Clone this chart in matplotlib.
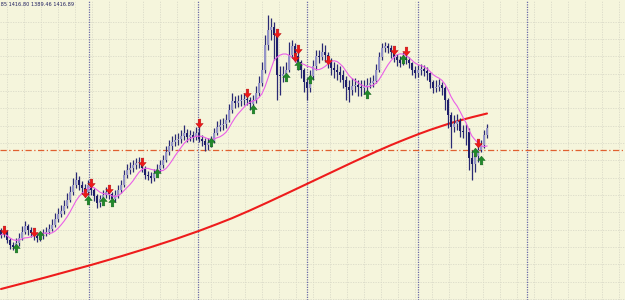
import numpy as np
import matplotlib
matplotlib.use("Agg")
import matplotlib.pyplot as plt
from matplotlib.path import Path
from matplotlib.markers import MarkerStyle

# ---------------- data ----------------
close = [1305,1308,1300,1295,1293,1297,1302,1308,1314,1310,1307,1304,1302,1304,1306,1308,1311,1315,1321,1326,
         1329,1334,1340,1348,1355,1360,1355,1352,1348,1355,1350,1344,1337,1341,1345,1348,1346,1341,1345,1350,
         1355,1365,1370,1372,1375,1377,1378,1372,1365,1364,1362,1367,1371,1375,1380,1388,1394,1398,1400,1401,
         1404,1407,1403,1405,1403,1407,1401,1399,1395,1397,1399,1407,1413,1415,1416,1420,1430,1439,1437,1439,
         1440,1441,1440,1436,1440,1447,1457,1470,1495,1510,1513,1505,1465,1464,1466,1470,1485,1494,1484,1478,
         1470,1458,1452,1464,1474,1484,1483,1488,1485,1478,1472,1470,1468,1465,1460,1453,1450,1454,1455,1453,
         1452,1453,1455,1457,1459,1470,1483,1492,1494,1492,1488,1483,1480,1477,1482,1480,1477,1470,1467,1470,
         1471,1469,1467,1458,1452,1453,1455,1452,1440,1425,1413,1416,1419,1409,1408,1408,1382,1376,1384,1390,
         1395,1405,1412]
high = [1312,1314,1310,1302,1298,1302,1307,1314,1319,1316,1313,1309,1307,1308,1311,1313,1316,1321,1327,1332,
        1335,1340,1347,1354,1362,1368,1364,1359,1356,1360,1357,1352,1346,1345,1350,1353,1352,1348,1350,1355,
        1360,1370,1376,1378,1380,1382,1383,1378,1374,1369,1368,1371,1376,1380,1385,1394,1400,1404,1406,1407,
        1410,1415,1411,1410,1409,1413,1414,1405,1402,1402,1404,1412,1419,1421,1422,1426,1436,1447,1444,1445,
        1446,1447,1445,1443,1445,1454,1464,1478,1505,1525,1522,1518,1510,1474,1474,1478,1498,1500,1497,1488,
        1480,1472,1462,1470,1480,1490,1490,1497,1495,1488,1482,1478,1476,1474,1470,1464,1460,1462,1462,1460,
        1460,1460,1462,1463,1465,1476,1488,1497,1498,1497,1495,1490,1486,1484,1488,1486,1483,1478,1474,1475,
        1476,1475,1473,1468,1460,1460,1461,1458,1454,1442,1428,1425,1426,1422,1415,1416,1412,1390,1390,1395,
        1400,1410,1416]
low = [1302,1303,1297,1291,1290,1291,1294,1300,1306,1305,1303,1300,1298,1299,1301,1304,1306,1309,1313,1318,
       1323,1326,1332,1338,1345,1352,1350,1346,1343,1345,1345,1339,1332,1333,1339,1342,1341,1336,1338,1342,
       1347,1353,1362,1366,1368,1371,1372,1368,1361,1360,1357,1359,1364,1368,1372,1378,1385,1390,1394,1395,
       1397,1400,1398,1399,1398,1400,1398,1394,1389,1390,1393,1397,1405,1409,1410,1412,1418,1427,1432,1433,
       1434,1435,1435,1430,1433,1437,1444,1454,1467,1490,1500,1480,1440,1445,1458,1462,1468,1482,1478,1470,
       1462,1448,1440,1448,1460,1470,1477,1480,1478,1472,1465,1462,1460,1458,1452,1440,1438,1445,1448,1444,
       1444,1446,1448,1452,1453,1457,1468,1480,1488,1487,1482,1478,1474,1473,1475,1476,1472,1465,1462,1463,
       1465,1464,1460,1452,1447,1448,1449,1445,1430,1412,1392,1408,1410,1403,1402,1395,1370,1360,1368,1378,
       1388,1392,1402]
first_open = 1310

# long moving average (red), read at a number of bars
slow_ma_idx = [0, 15, 30, 40, 50, 58, 66, 72, 77, 83, 89, 95, 101, 106, 111, 117, 122, 126, 130,
               133, 136, 139, 143, 147, 150, 153, 157, 162]
slow_ma_val = [1251, 1262.7, 1275, 1283.7, 1292.9, 1300.7, 1309.1, 1315.9, 1321.8, 1329.6, 1337.8,
               1346.2, 1354.7, 1361.8, 1368.9, 1377.4, 1384.3, 1389.7, 1394.9, 1398.6, 1402.2, 1405.7,
               1410.1, 1414.1, 1417.0, 1419.6, 1422.8, 1426.5]

# signal arrows: bar index, price
sell_idx = [1, 11, 28, 30, 36, 47, 66, 82, 92, 98, 99, 109, 131, 135, 159]
sell_val = [1310, 1308, 1347, 1357, 1351, 1378, 1417, 1447, 1507, 1483, 1491, 1480, 1490, 1489, 1397]
buy_idx = [5, 13, 29, 34, 37, 52, 70, 84, 95, 99, 103, 122, 134, 158, 160]
buy_val = [1292, 1305, 1340, 1339, 1338, 1367, 1398, 1431, 1463, 1475, 1461, 1446, 1481, 1388, 1380]

level_price = 1390
separators = [29.3, 65.7, 102.0, 139.0, 175.3]
header = ".85 1416.80 1389.46 1416.89"
ma_period = 8

# ---------------- drawing ----------------
close = np.array(close, float)
high = np.array(high, float)
low = np.array(low, float)
opn = np.concatenate([[first_open], close[:-1]])
high = np.maximum(high, np.maximum(opn, close))
low = np.minimum(low, np.minimum(opn, close))
n = len(close)
x = np.arange(n)

bg = "#f5f5dc"
fig = plt.figure(figsize=(6.25, 3.0), dpi=100)
fig.patch.set_facecolor(bg)
ax = fig.add_axes([0, 0, 1, 1])
ax.set_facecolor(bg)
ax.set_xlim(-1 / 3, 208)
ax.set_ylim(1240, 1540)
for s in ax.spines.values():
    s.set_visible(False)
ax.tick_params(left=False, bottom=False, labelleft=False, labelbottom=False)

# faint grid
gx = np.arange(2.0, 208, 17.0 / 3)
gy = np.arange(1518.3, 1240, -17.33)
for v in gx:
    ax.axvline(v, color="#dadac8", lw=0.6, ls=(0, (1.5, 1.5)), zorder=0)
for v in gy:
    ax.axhline(v, color="#dadac8", lw=0.6, ls=(0, (1.5, 1.5)), zorder=0)
for v in separators:
    ax.axvline(v, color="#6a6aa8", lw=0.9, ls=(0, (1, 1)), zorder=1)

# long MA
ax.plot(slow_ma_idx, slow_ma_val, color="#ee1c1c", lw=1.5, zorder=3,
        solid_capstyle="round", solid_joinstyle="round")

# level line
ax.axhline(level_price, color="#e06030", lw=0.9, ls=(0, (5, 2, 1, 2)), zorder=2)

# candles
bull = close >= opn
ax.vlines(x, low, high, color="#2a2a74", lw=0.9, zorder=4)
w = 0.8
ax.bar(x[bull], (close - opn)[bull], bottom=opn[bull], width=w, color="#9494c8", edgecolor="none", zorder=5)
ax.bar(x[~bull], (close - opn)[~bull], bottom=opn[~bull], width=w, color="#1e1e6a", edgecolor="none", zorder=5)

# fast MA
ma = np.array([close[max(0, i - ma_period + 1):i + 1].mean() for i in range(n)])
ax.plot(x, ma, color="#ea5ee8", lw=0.8, zorder=6)

# arrows
down = Path([(-0.3, 1), (0.3, 1), (0.3, 0), (0.85, 0), (0, -1), (-0.85, 0), (-0.3, 0), (-0.3, 1)],
            [Path.MOVETO] + [Path.LINETO] * 6 + [Path.CLOSEPOLY])
up = Path([(-0.3, -1), (0.3, -1), (0.3, 0), (0.85, 0), (0, 1), (-0.85, 0), (-0.3, 0), (-0.3, -1)],
          [Path.MOVETO] + [Path.LINETO] * 6 + [Path.CLOSEPOLY])
ax.scatter(sell_idx, sell_val, marker=MarkerStyle(down), s=40, color="#f01818",
           edgecolors="#b01010", linewidths=0.3, zorder=7)
ax.scatter(buy_idx, buy_val, marker=MarkerStyle(up), s=40, color="#208a2a",
           edgecolors="#106018", linewidths=0.3, zorder=7)

fig.text(-0.002, 0.993, header, ha="left", va="top", fontsize=3.6, color="#202060",
         family="DejaVu Sans")

fig.savefig("out.png", dpi=100, facecolor=bg)
